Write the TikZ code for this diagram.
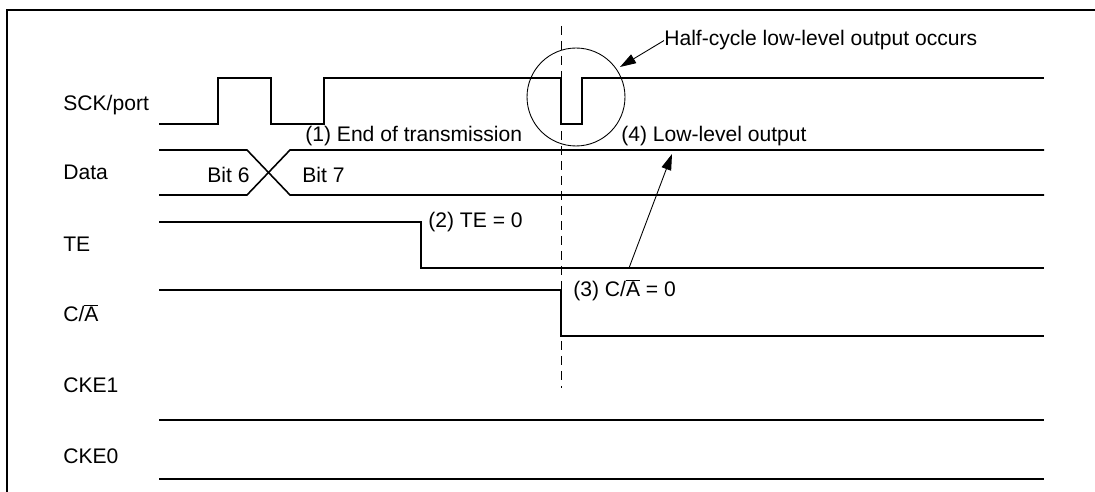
\documentclass[tikz,border=0pt]{standalone}
\usepackage{fontspec}
\setmainfont{Liberation Sans}
\usetikzlibrary{arrows.meta}

\begin{document}
\begin{tikzpicture}[
  x=0.02cm, y=-0.02cm,
  sig/.style={line width=0.9pt},
  lbl/.style={anchor=base west, inner sep=0pt, font=\fontsize{12}{14}\selectfont},
  pointer/.style={line width=0.5pt, -{Triangle[length=3.2mm,width=2mm]}}
]
  \useasboundingbox (0,0) rectangle (1095,492);
  \draw[line width=1.1pt] (7,492) -- (7,10) -- (1095,10);

  % row names
  \node[lbl] (lsck) at (63,111) {SCK/port};
  \node[lbl] (ldata) at (63,180) {Data};
  \node[lbl] (lte) at (63,252) {TE};
  \node[lbl] (lca) at (63,322) {C/$\overline{\mbox{A}}$};
  \node[lbl] (lcke1) at (63,393) {CKE1};
  \node[lbl] (lcke0) at (63,464) {CKE0};

  % waveforms
  \draw[sig] (159,124) -| (218,78) -| (271,124) -| (324,78) -| (561,124) -| (582,78) -- (1044,78);
  \draw[sig] (159,150) -- (247,150) -- (290,195) -- (1044,195);
  \draw[sig] (159,195) -- (247,195) -- (290,150) -- (1044,150);
  \draw[sig] (159,222) -| (421,268) -- (1044,268);
  \draw[sig] (159,290) -| (561,336) -- (1044,336);
  \draw[sig] (159,420) -- (1044,420);
  \draw[sig] (159,479) -- (1044,479);

  \node[lbl] (bit6) at (207,183) {Bit 6};
  \node[lbl] (bit7) at (302,183) {Bit 7};

  % end of transmission marker
  \draw[line width=0.5pt, dash pattern=on 0.18cm off 0.12cm] (561,26) -- (561,388);
  \node[draw, circle, line width=0.5pt, minimum size=1.96cm, inner sep=0pt] (halfcyc) at (576,97) {};

  % notes
  \node[lbl] (endtx) at (305,142) {(1) End of transmission};
  \node[lbl] (teoff) at (428,228) {(2) TE = 0};
  \node[lbl] (caoff) at (573,297) {(3) C/$\overline{\mbox{A}}$ = 0};
  \node[lbl] (lowout) at (621,142) {(4) Low-level output};
  \node[lbl] (halfnote) at (664,46) {Half-cycle low-level output occurs};

  \coordinate (hctip) at (620,67);
  \coordinate (tefoot) at (629,268);
  \coordinate (lowtip) at (672,154);
  \draw[pointer] (halfnote.west) -- (hctip);
  \draw[pointer] (tefoot) -- (lowtip);
\end{tikzpicture}
\end{document}
